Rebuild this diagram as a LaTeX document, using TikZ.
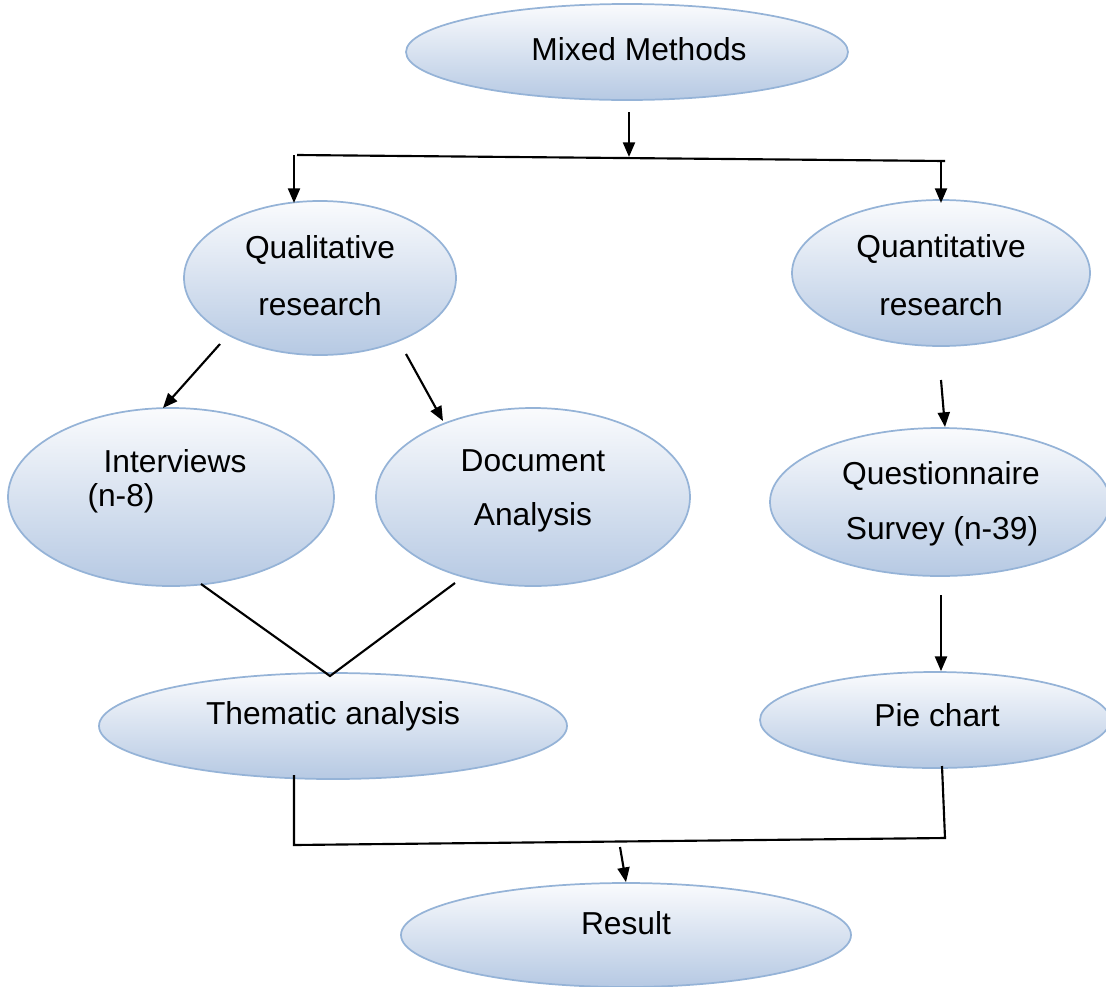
\documentclass[tikz,border=0pt]{standalone}
\usepackage{fontspec}
\setmainfont{Liberation Sans}
\usetikzlibrary{shapes.geometric,arrows.meta}
\definecolor{ovalline}{RGB}{149,179,215}
\definecolor{ovalbot}{RGB}{182,201,227}
\definecolor{ovaltop}{RGB}{250,251,253}

\begin{document}
\begin{tikzpicture}[x=0.75pt,y=-0.75pt,
	oval/.style={ellipse,draw=ovalline,line width=1.3pt,top color=ovaltop,bottom color=ovalbot,inner sep=0pt},
	lbl/.style={font=\fontsize{23.8}{28}\selectfont,inner sep=0pt},
	conn/.style={line width=1.6pt},
	arr/.style={line width=1.6pt,-{Triangle[length=11pt,width=9pt]}}]
\useasboundingbox (0,0) rectangle (1106,986);

% ovals
\node[oval,minimum width=442*0.75pt,minimum height=96*0.75pt] (mixed) at (627,52) {};
\node[oval,minimum width=272*0.75pt,minimum height=154*0.75pt] (qual) at (320,278) {};
\node[oval,minimum width=298*0.75pt,minimum height=146*0.75pt] (quant) at (941,273) {};
\node[oval,minimum width=326*0.75pt,minimum height=178*0.75pt] (interv) at (171,497) {};
\node[oval,minimum width=314*0.75pt,minimum height=178*0.75pt] (docan) at (533,497) {};
\node[oval,minimum width=340*0.75pt,minimum height=148*0.75pt] (quest) at (940,502) {};
\node[oval,minimum width=468*0.75pt,minimum height=106*0.75pt] (thema) at (333,726) {};
\node[oval,minimum width=350*0.75pt,minimum height=96*0.75pt] (pie) at (935,720) {};
\node[oval,minimum width=450*0.75pt,minimum height=104*0.75pt] (result) at (626,935) {};

% texts
\node[lbl] (tmixed) at (639,49) {Mixed Methods};
\node[lbl] (tqual1) at (320,250) {Qualitative};
\node[lbl] (tqual2) at (320,304) {research};
\node[lbl] (tquant1) at (941,249) {Quantitative};
\node[lbl] (tquant2) at (941,304) {research};
\node[lbl] (tinterv1) at (175,461) {Interviews};
\node[lbl] (tinterv2) at (121,498) {(n-8)};
\node[lbl] (tdocan1) at (533,461) {Document};
\node[lbl] (tdocan2) at (533,517) {Analysis};
\node[lbl] (tquest1) at (941,476) {Questionnaire};
\node[lbl] (tquest2) at (942,531) {Survey (n-39)};
\node[lbl] (tthema) at (333,716) {Thematic analysis};
\node[lbl] (tpie) at (937,715) {Pie chart};
\node[lbl] (tresult) at (626,923) {Result};

% connector points
\coordinate (splitL) at (297,155);
\coordinate (splitM) at (629,157);
\coordinate (splitR) at (945,161);
\coordinate (mixOut) at (629,112);
\coordinate (qualIn) at (294,203);
\coordinate (quantIn) at (941,203);
\coordinate (mergeTop) at (330,676);
\coordinate (joinL) at (294,845);
\coordinate (joinR) at (945,838);
\coordinate (joinM) at (620,847);

\draw[arr] (mixOut) -- (splitM);
\draw[conn] (splitL) -- (splitR);
\draw[arr] (splitL -| qualIn) -- (qualIn);
\draw[arr] (splitR -| quantIn) -- (quantIn);
\draw[arr] (220,344) -- (163,408);
\draw[arr] (406,354) -- (443,421);
\draw[arr] (941,380) -- (945,427);
\draw[conn] (201,584) -- (mergeTop) -- (455,583);
\draw[arr] (941,595) -- (pie.north -| 941,0);
\draw[conn] (294,775) -- (joinL) -- (joinR) -- (942,766);
\draw[arr] (joinM) -- (result.north);
\end{tikzpicture}
\end{document}
